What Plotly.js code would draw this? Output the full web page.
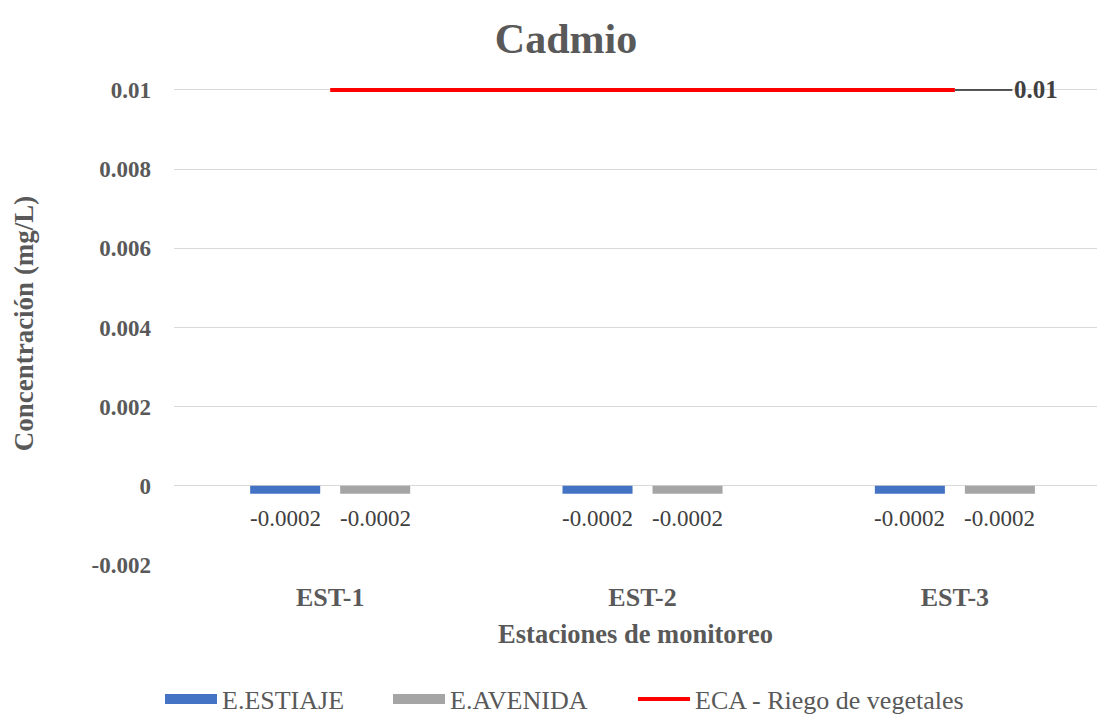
<!DOCTYPE html>
<html>
<head>
<meta charset="utf-8">
<script src="https://cdn.plot.ly/plotly-3.0.1.min.js"></script>
<style>
html,body{margin:0;padding:0;overflow:hidden;background:#fff;}
#chart{width:1097px;height:718px;}
</style>
</head>
<body>
<div id="chart"></div>
<script>
// ---- data ----
var categories = ['EST-1', 'EST-2', 'EST-3'];
var estiaje = [-0.0002, -0.0002, -0.0002];
var avenida = [-0.0002, -0.0002, -0.0002];
var eca = [0.01, 0.01, 0.01];
var seriesNames = ['E.ESTIAJE', 'E.AVENIDA', 'ECA - Riego de vegetales'];
var yTicks = [-0.002, 0, 0.002, 0.004, 0.006, 0.008, 0.01];
var yTickText = ['-0.002', '0', '0.002', '0.004', '0.006', '0.008', '0.01'];

var FONT = 'Liberation Serif, Times New Roman, serif';
var GRAY = '#595959';
var BLUE = '#4472C4', LGRAY = '#A5A5A5', RED = '#FF0000';

var traces = [
  {type: 'bar', name: seriesNames[0], x: categories, y: estiaje, showlegend: false,
   marker: {color: BLUE}, hoverinfo: 'x+y'},
  {type: 'bar', name: seriesNames[1], x: categories, y: avenida, showlegend: false,
   marker: {color: LGRAY}, hoverinfo: 'x+y'},
  // legend entries drawn as wide rectangles (no plotted points)
  {type: 'scatter', mode: 'lines', name: seriesNames[0], x: [null], y: [null],
   line: {color: BLUE, width: 14}, hoverinfo: 'skip', legend: 'legend'},
  {type: 'scatter', mode: 'lines', name: seriesNames[1], x: [null], y: [null],
   line: {color: LGRAY, width: 14}, hoverinfo: 'skip', legend: 'legend2'},
  {type: 'scatter', mode: 'lines', name: seriesNames[2], x: categories, y: eca,
   line: {color: RED, width: 4}, hoverinfo: 'x+y', legend: 'legend3'}
];

var annotations = [];
var fmt = function(v){ return String(v); };
categories.forEach(function(c, i){
  annotations.push({x: c, y: estiaje[i], xref: 'x', yref: 'y', text: fmt(estiaje[i]),
    showarrow: false, xshift: -45, yanchor: 'top', yshift: -10,
    font: {family: FONT, size: 23, color: '#404040'}});
  annotations.push({x: c, y: avenida[i], xref: 'x', yref: 'y', text: fmt(avenida[i]),
    showarrow: false, xshift: 45, yanchor: 'top', yshift: -10,
    font: {family: FONT, size: 23, color: '#404040'}});
});
var last = categories.length - 1;
annotations.push({x: categories[last], y: eca[last], xref: 'x', yref: 'y',
  text: '<b>' + fmt(eca[last]) + '</b>', showarrow: true, arrowhead: 0,
  arrowwidth: 1.5, arrowcolor: '#222', ax: 81, ay: 0, standoff: 0,
  font: {family: FONT, size: 25, color: '#404040'}});

function legendAt(px) {
  return {orientation: 'h', x: px/1097, xanchor: 'left', xref: 'container',
    y: 19/718, yref: 'container', yanchor: 'middle', itemwidth: 52,
    bgcolor: 'rgba(0,0,0,0)',
    font: {family: FONT, size: 26, color: GRAY}};
}

var layout = {
  width: 1097, height: 718,
  margin: {l: 174, r: 0, t: 82, b: 153, pad: 0},
  paper_bgcolor: '#fff', plot_bgcolor: '#fff',
  font: {family: FONT, color: GRAY},
  title: {text: '<b>Cadmio</b>', font: {family: FONT, size: 42, color: GRAY},
    x: 566/1097, xanchor: 'center', xref: 'container', y: 1 - 38/718, yref: 'container', yanchor: 'middle'},
  barmode: 'group', bargap: 0.4237, bargroupgap: 0.222,
  xaxis: {
    type: 'category', range: [-0.5, 2.455], showgrid: false, zeroline: false,
    showline: false, ticks: '', ticklabelstandoff: 14,
    tickfont: {family: FONT, size: 26, color: GRAY, weight: 'bold'},
    title: {text: '<b>Estaciones de monitoreo</b>', standoff: 13,
      font: {family: FONT, size: 26.5, color: GRAY}}
  },
  yaxis: {
    range: [-0.002, 0.0102], tickvals: yTicks, ticktext: yTickText,
    showgrid: true, gridcolor: '#d9d9d9', gridwidth: 1,
    zeroline: false, showline: false, ticks: '', ticklabelstandoff: 22,
    tickfont: {family: FONT, size: 23, color: GRAY, weight: 'bold'},
    title: {text: '<b>Concentración (mg/L)</b>', standoff: 50,
      font: {family: FONT, size: 27, color: GRAY}}
  },
  showlegend: true,
  legend: legendAt(160),
  legend2: legendAt(388),
  legend3: legendAt(633),
  annotations: annotations,
  hovermode: 'closest'
};

Plotly.newPlot('chart', traces, layout, {displayModeBar: false, responsive: false});
</script>
</body>
</html>
